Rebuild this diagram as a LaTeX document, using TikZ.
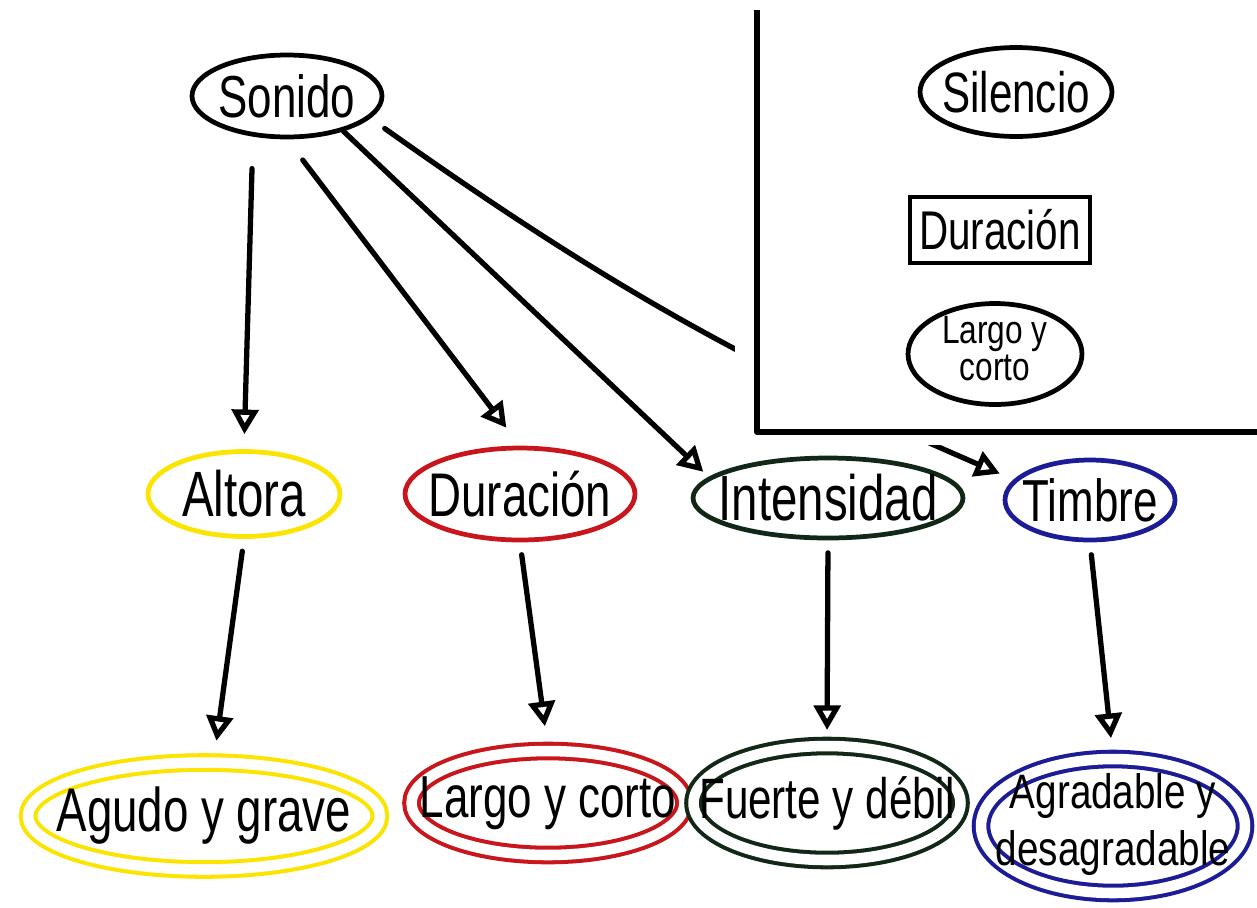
\documentclass[tikz,border=0pt]{standalone}
\usepackage{fontspec}
\setmainfont{Liberation Sans}
\usepackage{graphicx}
\usepackage{tikz}
\usetikzlibrary{arrows.meta,shapes.geometric}
\usepackage{xcolor}
\definecolor{amarillo}{RGB}{250,228,0}
\definecolor{rojo}{RGB}{200,22,28}
\definecolor{verde}{RGB}{18,40,22}
\definecolor{azul}{RGB}{28,28,150}
\newcommand{\tam}[1]{\fontsize{#1}{#1}\selectfont}
\newcommand{\alto}[1]{\scalebox{1}[1.35]{#1}}
\newcommand{\dos}[2]{\scalebox{1}[1.25]{\begin{tabular}{@{}c@{}}#1\\#2\end{tabular}}}

\tikzset{
	globo/.style={ellipse, draw, line width=2.7pt, inner sep=0pt},
	globodoble/.style={ellipse, draw, line width=2.3pt, double=white, double distance=6pt, inner sep=0pt},
	flecha/.style={-{Triangle[open,length=14pt,width=15pt]}, line width=3pt, line cap=round, shorten <=0.25cm}
}

\begin{document}
\begin{tikzpicture}[x=0.02cm, y=-0.02cm]
				\fill[white] (0,0) rectangle (1257,907);
				\useasboundingbox (0,0) rectangle (1257,907);
				\node[globo, minimum width=3.8cm, minimum height=1.64cm, label={[font=\tam{25}]center:\alto{Sonido}}] (sonido) at (287,96) {};
				\node[globo, draw=amarillo, minimum width=3.84cm, minimum height=1.7cm, label={[font=\tam{27}]center:\alto{Altora}}] (altora) at (244,494) {};
				\node[globo, draw=rojo, minimum width=4.6cm, minimum height=1.84cm, label={[font=\tam{26}]center:\alto{Duración}}] (duracion) at (520,494) {};
				\node[globo, draw=verde, minimum width=5.4cm, minimum height=1.6cm, label={[font=\tam{27}]center:\alto{Intensidad}}] (intensidad) at (828,498) {};
				\node[globo, draw=azul, minimum width=3.4cm, minimum height=1.6cm, label={[font=\tam{25}]center:\alto{Timbre}}] (timbre) at (1090,500) {};
				\node[globodoble, draw=amarillo, minimum width=7.04cm, minimum height=2.14cm, label={[font=\tam{26}]center:\alto{Agudo y grave}}] (agudo) at (204,816) {};
				\node[globodoble, draw=rojo, minimum width=5.46cm, minimum height=2.08cm, label={[font=\tam{25}]center:\alto{Largo y corto}}] (largo) at (548,803) {};
				\node[globodoble, draw=verde, minimum width=5.34cm, minimum height=2.28cm, label={[font=\tam{24}]center:\alto{Fuerte y débil}}] (fuerte) at (827,803) {};
				\node[globodoble, draw=azul, minimum width=5.28cm, minimum height=2.68cm, label={[font=\fontsize{22}{26}\selectfont]center:\dos{Agradable y}{desagradable}}] (agradable) at (1113,826) {};
				\draw[flecha, shorten <=0.64cm, shorten >=0.3cm] (sonido.230) -- (altora.north);
				\draw[flecha, shorten <=0.52cm, shorten >=0.45cm] (sonido.south) -- (duracion.north);
				\draw[flecha, shorten <=0pt, shorten >=0.15cm] (sonido.-32) -- (intensidad.170);
				\draw[flecha, shorten <=0.35cm, shorten >=0.3cm] (sonido.-15) to[bend right=6] (timbre.165);
				\draw[flecha, shorten >=0.4cm] (altora.south) -- (agudo.80);
				\draw[flecha, shorten >=0.46cm] (duracion.south) -- (largo.north);
				\draw[flecha, shorten >=0.28cm] (intensidad.south) -- (fuerte.north);
				\draw[flecha, shorten >=0.38cm] (timbre.south) -- (agradable.north);
				\fill[white] (735,0) rectangle (1257,445);
				\draw[line width=3pt, line join=round] (757,10) -- (757,432) -- (1257,432);
				\node[globo, minimum width=3.84cm, minimum height=1.78cm, label={[font=\tam{24}]center:\alto{Silencio}}] (silencio) at (1016,92) {};
				\node[draw, line width=2.7pt, inner sep=0pt, minimum width=3.6cm, minimum height=1.32cm, font=\tam{23}] (durcaja) at (1000,230) {\alto{Duración}};
				\node[globo, minimum width=3.48cm, minimum height=2.02cm, label={[font=\fontsize{18}{17}\selectfont]center:\dos{Largo y}{corto}}] (largocaja) at (995,354) {};
\end{tikzpicture}
\end{document}
